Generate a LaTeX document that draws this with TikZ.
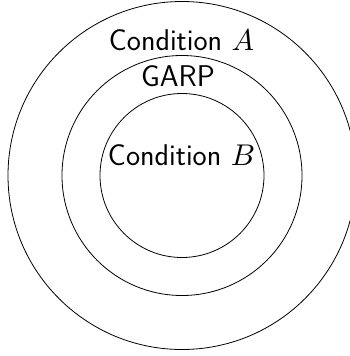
\documentclass[tikz,border=0pt]{standalone}
\DeclareFontFamily{OML}{mycmm}{\skewchar\font127}
\DeclareFontShape{OML}{mycmm}{m}{it}{<->s*cmmi10}{}
\DeclareSymbolFont{letters}{OML}{mycmm}{m}{it}
\begin{document}
\begin{tikzpicture}[x=1pt,y=-1pt,
  ring/.style={circle,draw,line width=0.8pt,inner sep=0pt,outer sep=0pt},
  lbl/.style={anchor=base,inner sep=0pt,font=\sffamily\fontsize{30}{36}\selectfont}]
\useasboundingbox (0,0) rectangle (350,356);
\clip (0,0) rectangle (350,356);
\node[ring,minimum size=348pt] (outer) at (182,175.5) {};
\node[ring,minimum size=240pt] (middle) at (182,175.5) {};
\node[ring,minimum size=164pt] (inner) at (182,175.5) {};
\node[lbl] (ca) at (181.5,50) {Condition $A$};
\node[lbl] (garp) at (178,86) {GARP};
\node[lbl] (cb) at (181.5,165.7) {Condition $B$};
\end{tikzpicture}
\end{document}
